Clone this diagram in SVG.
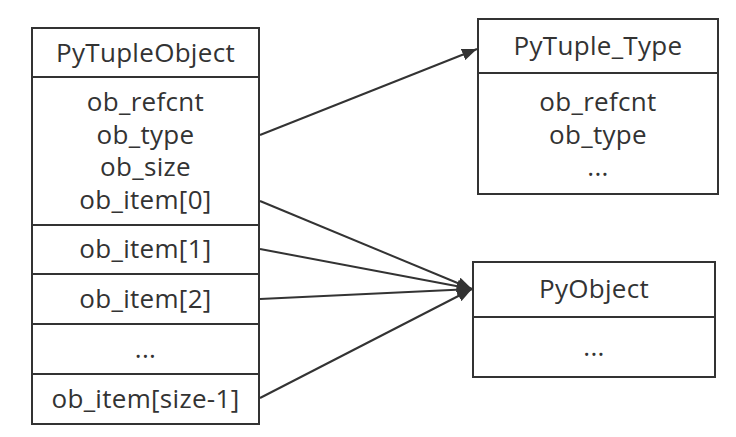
<svg xmlns="http://www.w3.org/2000/svg" width="736" height="437" viewBox="0 0 736 437">
<defs>
<style>
.box{fill:#fff;stroke:#333;stroke-width:2}
.sep{stroke:#333;stroke-width:2}
.t{font-family:"Open Sans","Noto Sans",sans-serif;font-size:26px;fill:#333;text-anchor:middle;letter-spacing:0.3px}
.conn{stroke:#333;stroke-width:2;fill:none}
</style>
<marker id="ah" markerUnits="userSpaceOnUse" markerWidth="16" markerHeight="12" refX="15" refY="6" orient="auto">
<path d="M0,0 L15,6 L0,12 z" fill="#333"/>
</marker>
</defs>
<rect width="736" height="437" fill="#fff"/>
<g id="PyTupleObject">
<rect class="box" x="32" y="28" width="227" height="396"/>
<line class="sep" x1="32" y1="77" x2="259" y2="77"/>
<line class="sep" x1="32" y1="225" x2="259" y2="225"/>
<line class="sep" x1="32" y1="274" x2="259" y2="274"/>
<line class="sep" x1="32" y1="324" x2="259" y2="324"/>
<line class="sep" x1="32" y1="374" x2="259" y2="374"/>
<text class="t" x="145.5" y="62">PyTupleObject</text>
<text class="t" x="145.5" y="111">ob_refcnt</text>
<text class="t" x="145.5" y="143.5">ob_type</text>
<text class="t" x="145.5" y="176">ob_size</text>
<text class="t" x="145.5" y="208.5">ob_item[0]</text>
<text class="t" x="145.5" y="258">ob_item[1]</text>
<text class="t" x="145.5" y="308">ob_item[2]</text>
<text class="t" x="145.5" y="358">...</text>
<text class="t" x="145.5" y="408">ob_item[size-1]</text>
</g>
<g id="PyTuple_Type">
<rect class="box" x="478" y="19" width="240" height="175"/>
<line class="sep" x1="478" y1="73" x2="718" y2="73"/>
<text class="t" x="598" y="55">PyTuple_Type</text>
<text class="t" x="598" y="111">ob_refcnt</text>
<text class="t" x="598" y="143.5">ob_type</text>
<text class="t" x="598" y="176">...</text>
</g>
<g id="PyObject">
<rect class="box" x="473" y="262" width="242" height="115"/>
<line class="sep" x1="473" y1="317" x2="715" y2="317"/>
<text class="t" x="594" y="298">PyObject</text>
<text class="t" x="594" y="356">...</text>
</g>
<g id="connectors">
<line class="conn" x1="260" y1="135" x2="477" y2="49" marker-end="url(#ah)"/>
<line class="conn" x1="260" y1="201" x2="472" y2="289" marker-end="url(#ah)"/>
<line class="conn" x1="260" y1="249" x2="472" y2="289" marker-end="url(#ah)"/>
<line class="conn" x1="260" y1="299" x2="472" y2="289" marker-end="url(#ah)"/>
<line class="conn" x1="260" y1="398" x2="472" y2="289" marker-end="url(#ah)"/>
</g>
</svg>
